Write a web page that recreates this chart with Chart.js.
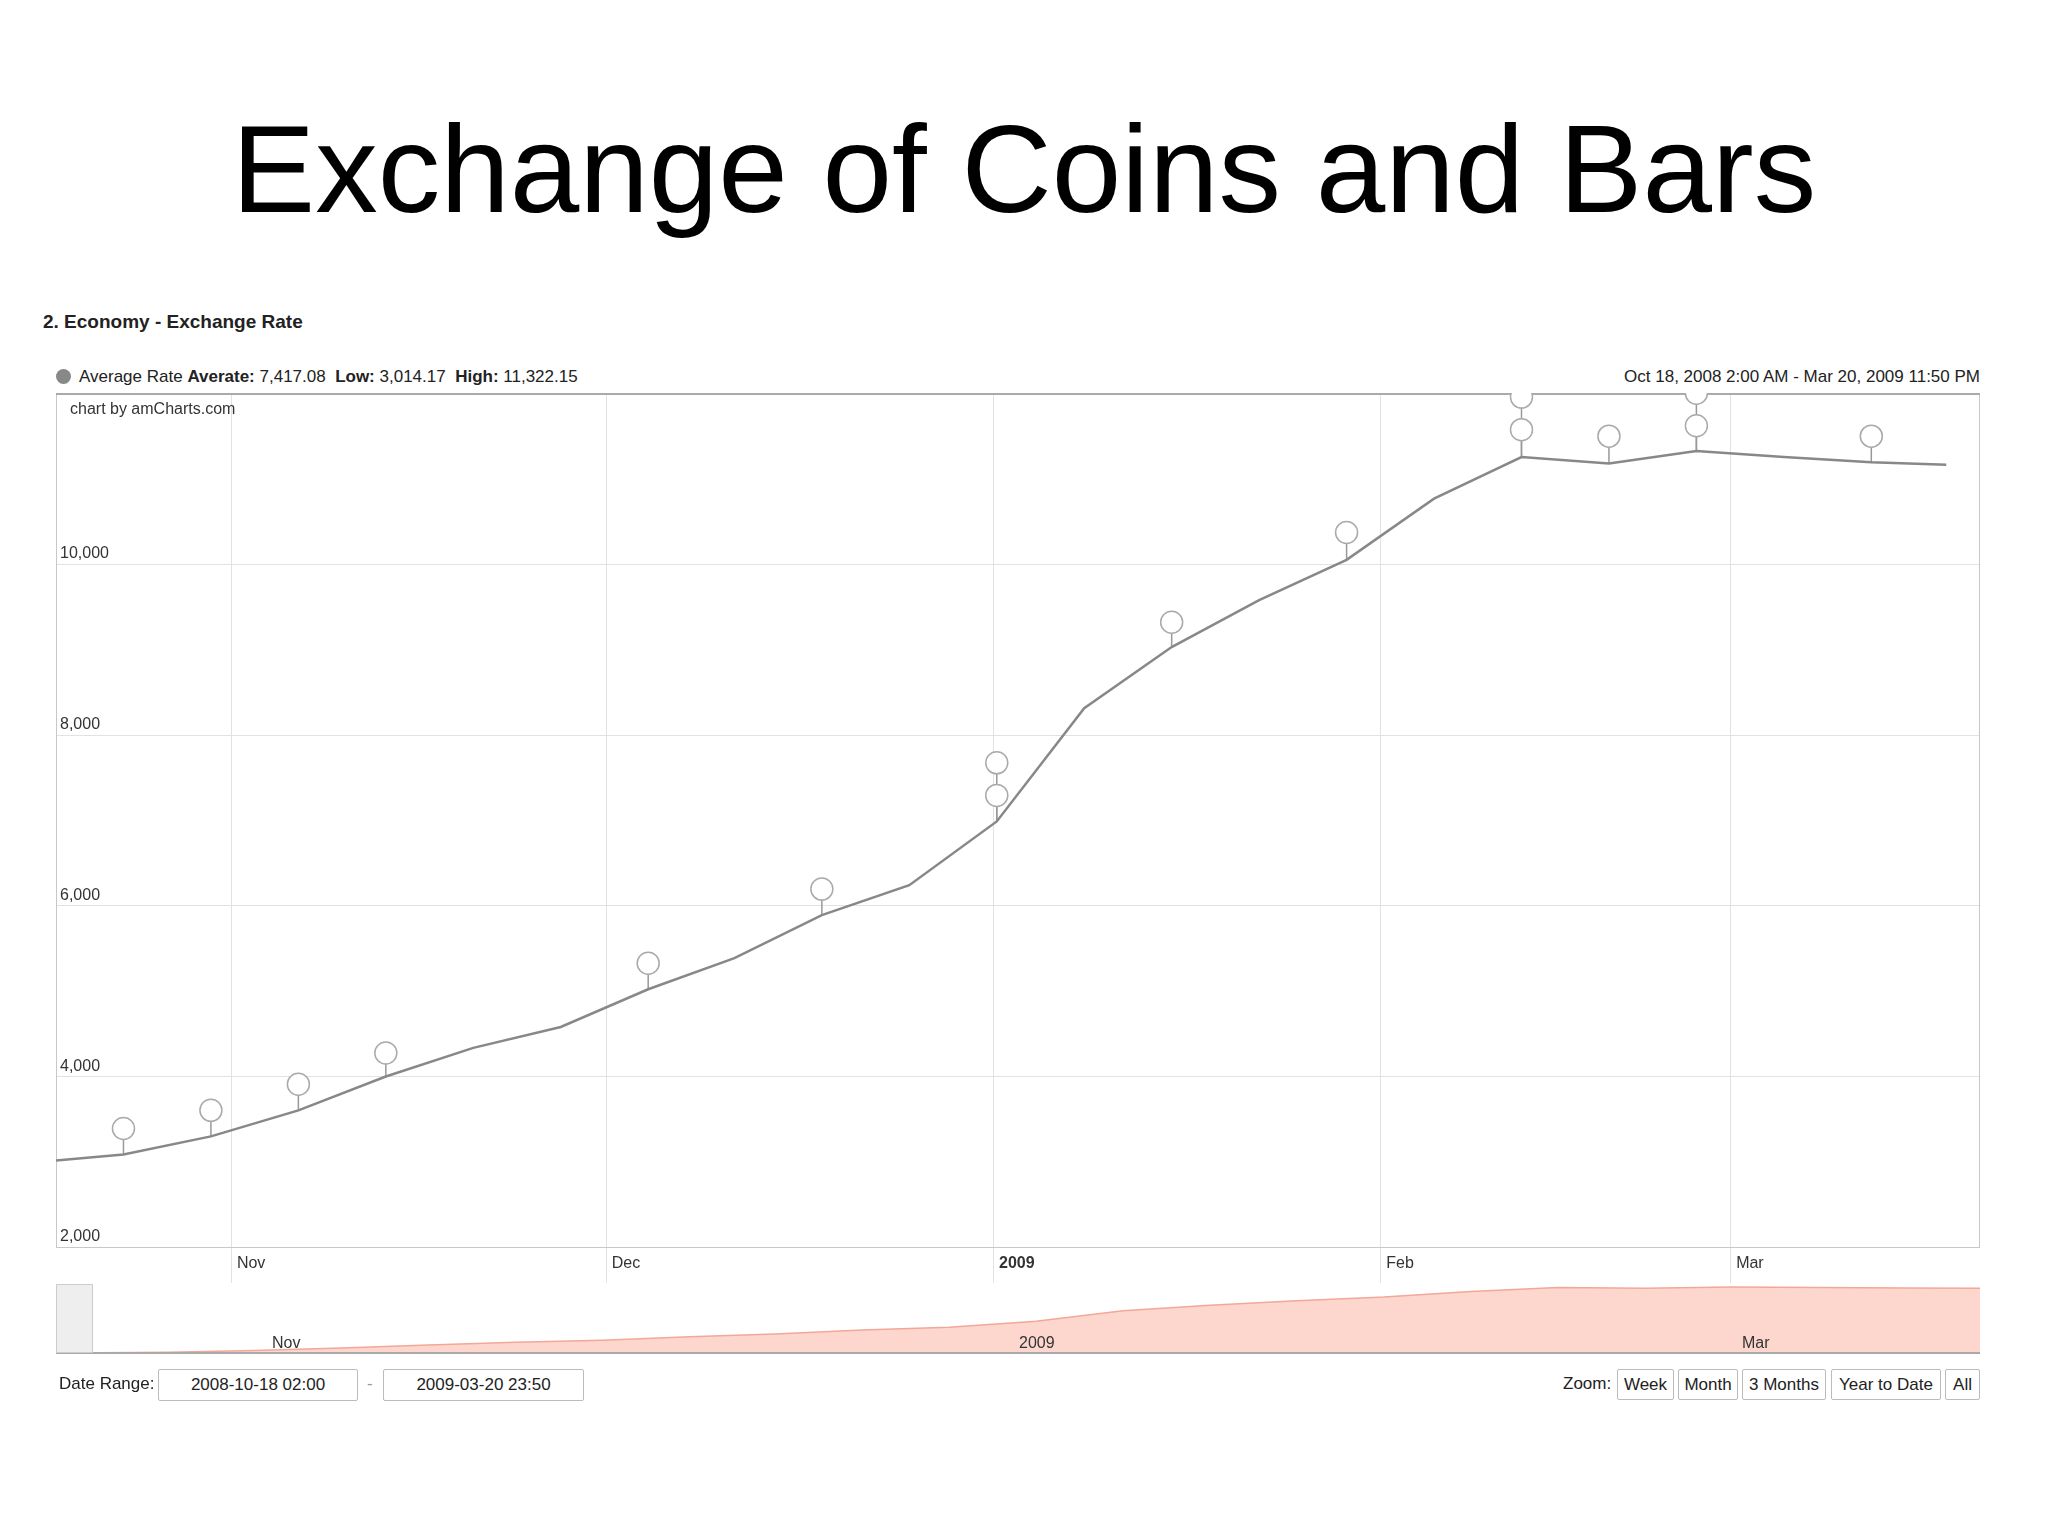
<!DOCTYPE html>
<html>
<head>
<meta charset="utf-8">
<script src="https://cdn.jsdelivr.net/npm/chart.js@4.4.1/dist/chart.umd.min.js"></script>
<style>
    body { margin: 0; width: 2048px; height: 1536px; background: #fff; font-family: "Liberation Sans", Arial, sans-serif; position: relative; overflow: hidden; }
    .abs { position: absolute; white-space: nowrap; }
    #title { left: 0; width: 2048px; top: 97px; text-align: center; font-size: 125px; color: #000; }
    .box { position: absolute; border: 1px solid #bbb; border-radius: 2px; background: #fff; font-size: 17px; color: #222; display: flex; align-items: center; justify-content: center; box-sizing: border-box; }
</style>
</head>
<body>
<div id="title" class="abs">Exchange of Coins and Bars</div>
<div class="abs" style="left:43px;top:311px;font-size:19px;font-weight:bold;color:#222">2. Economy - Exchange Rate</div>
<div class="abs" style="left:56px;top:367px;font-size:17px;color:#222"><span style="display:inline-block;width:15px;height:15px;border-radius:50%;background:#888;vertical-align:-2px;margin-right:8px"></span>Average Rate <b>Averate:</b> 7,417.08&nbsp;&nbsp;<b>Low:</b> 3,014.17&nbsp;&nbsp;<b>High:</b> 11,322.15</div>
<div class="abs" style="right:68px;top:367px;font-size:17px;color:#222">Oct 18, 2008 2:00 AM - Mar 20, 2009 11:50 PM</div>

<div class="abs" style="left:56px;top:393px;width:1924px;height:900px"><canvas id="main"></canvas></div>
<div class="abs" style="left:70px;top:400px;font-size:16px;color:#333">chart by amCharts.com</div>

<div class="abs" style="left:56px;top:1284px;width:1924px;height:70px"><canvas id="nav"></canvas></div>
<div class="abs" style="left:56px;top:1284px;width:37px;height:69px;background:#eee;border:1px solid #ccc;box-sizing:border-box"></div>
<div class="abs" style="left:272px;top:1334px;font-size:16px;color:#333">Nov</div>
<div class="abs" style="left:1019px;top:1334px;font-size:16px;color:#333">2009</div>
<div class="abs" style="left:1742px;top:1334px;font-size:16px;color:#333">Mar</div>

<div class="abs" style="left:59px;top:1374px;font-size:17px;color:#222">Date Range:</div>
<div class="box" style="left:158px;top:1369px;width:200px;height:32px">2008-10-18 02:00</div>
<div class="abs" style="left:367px;top:1374px;font-size:17px;color:#999">-</div>
<div class="box" style="left:383px;top:1369px;width:201px;height:32px">2009-03-20 23:50</div>
<div class="abs" style="left:1563px;top:1374px;font-size:17px;color:#222">Zoom:</div>
<div class="box" style="left:1617px;top:1369px;width:57px;height:31px">Week</div>
<div class="box" style="left:1678px;top:1369px;width:60px;height:31px">Month</div>
<div class="box" style="left:1742px;top:1369px;width:84px;height:31px">3 Months</div>
<div class="box" style="left:1831px;top:1369px;width:110px;height:31px">Year to Date</div>
<div class="box" style="left:1945px;top:1369px;width:35px;height:31px">All</div>

<script>
// days counted from 2008-10-18 02:00
const rateDays = [0, 5.4, 12.4, 19.4, 26.4, 33.4, 40.4, 47.4, 54.3, 61.3, 68.3, 75.3, 82.3, 89.3, 96.3, 103.3, 110.3, 117.3, 124.3, 131.3, 138.3, 145.3, 151.3];
const rateValues = [3014, 3082, 3295, 3600, 3996, 4332, 4576, 5018, 5383, 5886, 6237, 6983, 8309, 9025, 9574, 10046, 10763, 11250, 11174, 11322, 11250, 11190, 11159];
const eventDays = [5.4, 12.4, 19.4, 26.4, 47.4, 61.3, 75.3, 75.3, 89.3, 103.3, 117.3, 117.3, 124.3, 131.3, 131.3, 145.3];
const eventValues = [3387, 3600, 3905, 4271, 5322, 6191, 7288, 7669, 9315, 10367, 11571, 11952, 11495, 11617, 11997, 11495];
const monthDays = [14, 44, 75, 106, 134];
const monthLabels = ['Nov', 'Dec', '2009', 'Feb', 'Mar'];
const yTicks = [2000, 4000, 6000, 8000, 10000];

const pts = (xs, ys) => xs.map((x, i) => ({ x: x, y: ys[i] }));

function lineValueAt(d) {
    for (let i = 1; i < rateDays.length; i++) {
        if (d <= rateDays[i]) {
            const t = (d - rateDays[i - 1]) / (rateDays[i] - rateDays[i - 1]);
            return rateValues[i - 1] + t * (rateValues[i] - rateValues[i - 1]);
        }
    }
    return rateValues[rateValues.length - 1];
}

const gridPlugin = {
    id: 'grid',
    beforeDatasetsDraw(chart) {
        const { ctx, chartArea: a, scales: { x, y } } = chart;
        ctx.save();
        ctx.lineWidth = 1;
        ctx.strokeStyle = '#e2e2e2';
        yTicks.forEach(v => {
            const py = Math.round(y.getPixelForValue(v)) + 0.5;
            ctx.beginPath(); ctx.moveTo(a.left, py); ctx.lineTo(a.right, py); ctx.stroke();
        });
        monthDays.forEach(d => {
            const px = Math.round(x.getPixelForValue(d)) + 0.5;
            ctx.beginPath(); ctx.moveTo(px, a.top); ctx.lineTo(px, a.bottom + 36); ctx.stroke();
        });
        ctx.strokeStyle = '#c8c8c8';
        ctx.strokeRect(a.left + 0.5, a.top + 0.5, a.right - a.left - 1, a.bottom - a.top);
        ctx.strokeStyle = '#aaa';
        ctx.lineWidth = 2;
        ctx.beginPath(); ctx.moveTo(a.left, a.top + 1); ctx.lineTo(a.right, a.top + 1); ctx.stroke();
        // labels
        ctx.fillStyle = '#333';
        ctx.font = '16px "Liberation Sans", Arial';
        ctx.textBaseline = 'bottom';
        yTicks.forEach(v => {
            ctx.fillText(v.toLocaleString('en-US'), a.left + 4, y.getPixelForValue(v) - 2);
        });
        ctx.textBaseline = 'top';
        monthDays.forEach((d, i) => {
            ctx.font = (monthLabels[i] === '2009' ? 'bold ' : '') + '16px "Liberation Sans", Arial';
            ctx.fillText(monthLabels[i], x.getPixelForValue(d) + 6, a.bottom + 9);
        });
        // event stems
        ctx.strokeStyle = '#999';
        ctx.lineWidth = 1.5;
        eventDays.forEach((d, i) => {
            const px = x.getPixelForValue(d);
            ctx.beginPath();
            ctx.moveTo(px, y.getPixelForValue(eventValues[i]));
            ctx.lineTo(px, y.getPixelForValue(lineValueAt(d)));
            ctx.stroke();
        });
        ctx.restore();
    }
};

new Chart(document.getElementById('main'), {
    type: 'scatter',
    data: {
        datasets: [{
            data: pts(eventDays, eventValues),
            pointRadius: 11,
            pointBackgroundColor: '#fff',
            pointBorderColor: '#aaa',
            pointBorderWidth: 1.5,
            order: 0
        }, {
            data: pts(rateDays, rateValues),
            showLine: true,
            borderColor: '#888',
            borderWidth: 2.5,
            pointRadius: 0,
            order: 1
        }]
    },
    plugins: [gridPlugin],
    options: {
        responsive: true,
        maintainAspectRatio: false,
        animation: false,
        layout: { autoPadding: false, padding: { bottom: 46 } },
        plugins: { legend: { display: false }, tooltip: { enabled: false } },
        scales: {
            x: { type: 'linear', min: 0, max: 154, display: false },
            y: { min: 2000, max: 12000, display: false }
        }
    }
});

new Chart(document.getElementById('nav'), {
    type: 'scatter',
    data: {
        datasets: [{
            data: pts(rateDays, rateValues),
            showLine: true,
            fill: 'start',
            backgroundColor: 'rgba(252, 205, 192, 0.8)',
            borderColor: '#f2a898',
            borderWidth: 1.5,
            pointRadius: 0
        }]
    },
    plugins: [{
        id: 'navBorder',
        afterDatasetsDraw(chart) {
            const { ctx, chartArea: a } = chart;
            ctx.save();
            ctx.strokeStyle = '#aaa';
            ctx.lineWidth = 2;
            ctx.beginPath(); ctx.moveTo(a.left, a.bottom - 1); ctx.lineTo(a.right, a.bottom - 1); ctx.stroke();
            ctx.restore();
        }
    }],
    options: {
        responsive: true,
        maintainAspectRatio: false,
        animation: false,
        layout: { autoPadding: false },
        plugins: { legend: { display: false }, tooltip: { enabled: false } },
        scales: {
            x: { type: 'linear', min: -3.6, max: 151.3, display: false },
            y: { min: 2850, max: 11700, display: false }
        }
    }
});
</script>
</body>
</html>
